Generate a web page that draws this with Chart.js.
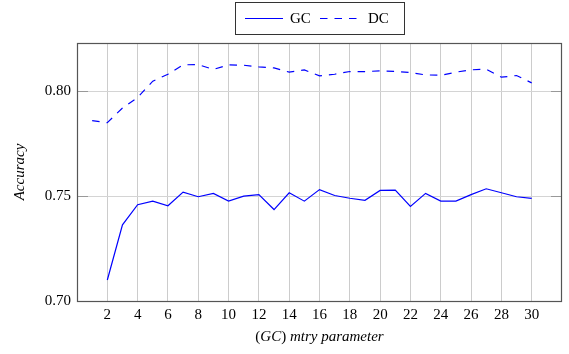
<!DOCTYPE html>
<html>
<head>
<meta charset="utf-8">
<script src="https://cdn.jsdelivr.net/npm/chart.js@4/dist/chart.umd.min.js"></script>
<style>
  html, body { margin: 0; padding: 0; background: #fff; }
  #wrap { width: 569px; height: 354px; }
</style>
</head>
<body>
<div id="wrap"><canvas id="chart"></canvas></div>
<script>
// mtry values 1..30 (GC has no value at 1)
const mtry = [1, 2, 3, 4, 5, 6, 7, 8, 9, 10, 11, 12, 13, 14, 15,
              16, 17, 18, 19, 20, 21, 22, 23, 24, 25, 26, 27, 28, 29, 30];
const gcAccuracy = [null, 0.7100, 0.7363, 0.7459, 0.7476, 0.7454, 0.7519, 0.7497, 0.7513, 0.7476,
                    0.7500, 0.7507, 0.7436, 0.7516, 0.7476, 0.7531, 0.7503, 0.7490, 0.7480, 0.7527,
                    0.7529, 0.7451, 0.7513, 0.7476, 0.7476, 0.7507, 0.7535, 0.7516, 0.7497, 0.7489];
const dcAccuracy = [0.7860, 0.7850, 0.7920, 0.7970, 0.8048, 0.8081, 0.8126, 0.8127, 0.8104, 0.8126,
                    0.8124, 0.8116, 0.8111, 0.8091, 0.8102, 0.8073, 0.8081, 0.8094, 0.8094, 0.8097,
                    0.8095, 0.8089, 0.8078, 0.8076, 0.8091, 0.8102, 0.8105, 0.8067, 0.8075, 0.8040];
const xTicks = [2, 4, 6, 8, 10, 12, 14, 16, 18, 20, 22, 24, 26, 28, 30];
const yTicks = [0.70, 0.75, 0.80];

const toPoints = (ys) => mtry.map((x, i) => ({ x: x, y: ys[i] }));

Chart.defaults.font.family = "'Liberation Serif', 'DejaVu Serif', serif";
Chart.defaults.font.size = 15;
Chart.defaults.color = '#000';

const blue = '#0000ff';

// frame, inner y ticks, legend box and the mixed-style x title
const decor = {
  id: 'decor',
  afterDraw(chart) {
    const { ctx, chartArea: a } = chart;
    const y = chart.scales.y;
    ctx.save();

    ctx.strokeStyle = '#999';
    ctx.lineWidth = 1;
    yTicks.forEach(v => {
      const py = Math.round(y.getPixelForValue(v)) + 0.5;
      ctx.beginPath();
      ctx.moveTo(a.left, py); ctx.lineTo(a.left + 11, py);
      ctx.moveTo(a.right - 11, py); ctx.lineTo(a.right, py);
      ctx.stroke();
    });

    ctx.strokeStyle = '#555';
    ctx.lineWidth = 1.2;
    ctx.strokeRect(a.left + 0.5, a.top + 0.5, a.right - a.left - 1, a.bottom - a.top);

    // legend
    ctx.strokeStyle = '#333';
    ctx.lineWidth = 1;
    ctx.strokeRect(235.5, 2.5, 169, 32);
    ctx.strokeStyle = blue;
    ctx.lineWidth = 1.2;
    ctx.beginPath();
    ctx.moveTo(245, 18.5); ctx.lineTo(283, 18.5);
    ctx.stroke();
    ctx.setLineDash([7.5, 7]);
    ctx.beginPath();
    ctx.moveTo(320, 18.5); ctx.lineTo(359, 18.5);
    ctx.stroke();
    ctx.setLineDash([]);
    ctx.fillStyle = '#000';
    ctx.font = "15px 'Liberation Serif'";
    ctx.textBaseline = 'middle';
    ctx.textAlign = 'left';
    ctx.fillText('GC', 290, 19);
    ctx.fillText('DC', 368, 19);

    // x axis title: (GC) mtry parameter
    const parts = [
      ['(', "15px 'Liberation Serif'"],
      ['GC', "italic 15px 'Liberation Serif'"],
      [')', "15px 'Liberation Serif'"],
      [' mtry parameter', "italic 15px 'Liberation Serif'"]
    ];
    let total = 0;
    parts.forEach(p => { ctx.font = p[1]; total += ctx.measureText(p[0]).width; });
    let x = (a.left + a.right) / 2 - total / 2;
    parts.forEach(p => {
      ctx.font = p[1];
      ctx.fillText(p[0], x, 337);
      x += ctx.measureText(p[0]).width;
    });
    ctx.restore();
  }
};

new Chart(document.getElementById('chart'), {
  type: 'line',
  data: {
    datasets: [
      {
        label: 'GC',
        data: toPoints(gcAccuracy),
        borderColor: blue,
        borderWidth: 1.2,
        pointRadius: 0,
        tension: 0,
        fill: false
      },
      {
        label: 'DC',
        data: toPoints(dcAccuracy),
        borderColor: blue,
        borderWidth: 1.2,
        borderDash: [7.5, 7],
        pointRadius: 0,
        tension: 0,
        fill: false
      }
    ]
  },
  options: {
    responsive: true,
    maintainAspectRatio: false,
    animation: false,
    devicePixelRatio: 1,
    layout: { padding: { top: 43, right: 7, left: 0, bottom: 0 } },
    plugins: {
      legend: { display: false },
      tooltip: { enabled: false }
    },
    scales: {
      x: {
        type: 'linear',
        min: 0,
        max: 32,
        afterBuildTicks: (s) => { s.ticks = xTicks.map(v => ({ value: v })); },
        afterFit: (s) => { s.height = 53; },
        ticks: { padding: 5, callback: (v) => String(v), maxRotation: 0, autoSkip: false },
        grid: { color: '#cccccc', lineWidth: 1, drawTicks: false },
        border: { display: false },
        title: { display: false }
      },
      y: {
        min: 0.70,
        max: 0.823,
        afterBuildTicks: (s) => { s.ticks = yTicks.map(v => ({ value: v })); },
        afterFit: (s) => { s.width = 77; },
        ticks: { padding: 6, callback: (v) => v.toFixed(2) },
        grid: { color: '#d4d4d4', lineWidth: 1, drawTicks: false },
        border: { display: false },
        title: {
          display: true,
          text: 'Accuracy',
          font: { style: 'italic', size: 15 },
          padding: { top: 11, bottom: 0 }
        }
      }
    }
  },
  plugins: [decor]
});
</script>
</body>
</html>
